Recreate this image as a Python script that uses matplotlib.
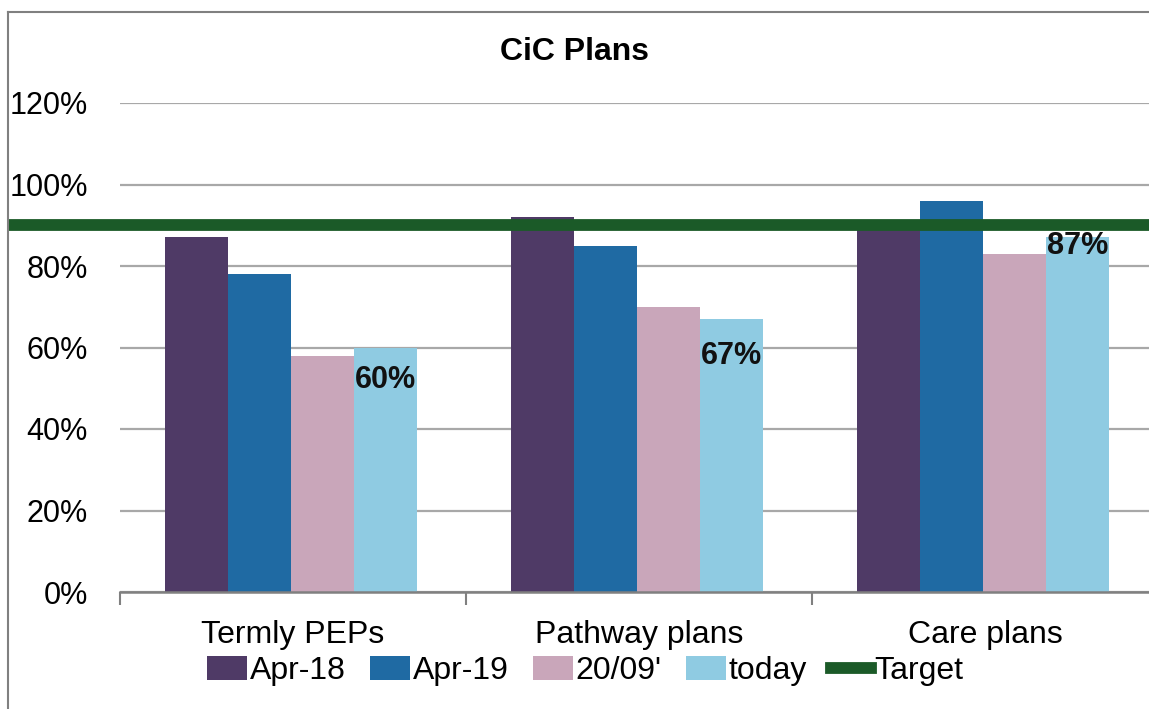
import numpy as np
import matplotlib
matplotlib.use('Agg')
import matplotlib.pyplot as plt
from matplotlib.patches import Patch
from matplotlib.lines import Line2D

plt.rcParams['font.family'] = ['Liberation Sans', 'DejaVu Sans']

categories = ['Termly PEPs', 'Pathway plans', 'Care plans']
series_names = ['Apr-18', 'Apr-19', "20/09'", 'today']
apr18 = [87, 92, 90]
apr19 = [78, 85, 96]
sep20 = [58, 70, 83]
today = [60, 67, 87]
target = 90
ytick_labels = ['0%', '20%', '40%', '60%', '80%', '100%', '120%']

colors = ['#4f3a66', '#1f6aa3', '#c9a6ba', '#8fcbe2']
target_color = '#1b5a28'

fig = plt.figure(figsize=(11.49, 7.09), dpi=100)
ax = fig.add_axes([120/1149, 117/709, 1038/1149, 489/709])

x = np.arange(len(categories))
w = 0.182
all_series = [apr18, apr19, sep20, today]
for i, vals in enumerate(all_series):
    ax.bar(x + (i - 1.5) * w - 0.005, vals, width=w, color=colors[i], zorder=2)

# target line, runs across the whole chart
ax.axhline(target, xmin=-0.108, xmax=1.0, color=target_color, lw=8.5, clip_on=False,
           solid_capstyle='butt', zorder=3)

# data labels on the "today" bars
offsets = [-8, -9, -2]
for xi, v, off in zip(x, today, offsets):
    ax.text(xi + 1.5 * w - 0.005, v + off, f'{v}%', ha='center', va='center',
            fontsize=22, fontweight='bold', color='#111111', zorder=4)

ax.set_xlim(-0.5, 2.5)
ax.set_ylim(0, 120)
ax.set_yticks(np.arange(0, 121, 20))
ax.set_yticklabels(ytick_labels, fontsize=22)
ax.tick_params(axis='y', length=0, pad=23)
ax.set_xticks(x)
ax.set_xticklabels(categories, fontsize=23)
ax.tick_params(axis='x', length=0, pad=20)
ax.set_xticks([-0.5, 0.5, 1.5], minor=True)
ax.tick_params(axis='x', which='minor', length=9, width=1.5, color='#808080', direction='out')

ax.grid(axis='y', color='#a8a8a8', lw=1.6, zorder=0)
ax.set_axisbelow(True)
for s in ['top', 'right', 'left']:
    ax.spines[s].set_visible(False)
ax.spines['bottom'].set_color('#808080')
ax.spines['bottom'].set_linewidth(1.8)

fig.text(575/1149, 1 - 52/709, 'CiC Plans', ha='center', va='center',
         fontsize=23, fontweight='bold')

handles = [Patch(facecolor=c, label=n) for c, n in zip(colors, series_names)]
handles.append(Line2D([0], [0], color=target_color, lw=8.5, label='Target'))
fig.legend(handles=handles, loc='center', bbox_to_anchor=(585/1149, 1 - 671/709),
           ncol=5, frameon=False, fontsize=23, handlelength=1.25, handleheight=0.8,
           handletextpad=0.1, columnspacing=0.75, borderaxespad=0)

# chart border (left and top)
fig.add_artist(Line2D([8/1149, 8/1149], [0, 1 - 12/709], color='#808080', lw=1.5))
fig.add_artist(Line2D([8/1149, 1], [1 - 12/709, 1 - 12/709], color='#808080', lw=1.5))

fig.savefig('out.png', dpi=100)
